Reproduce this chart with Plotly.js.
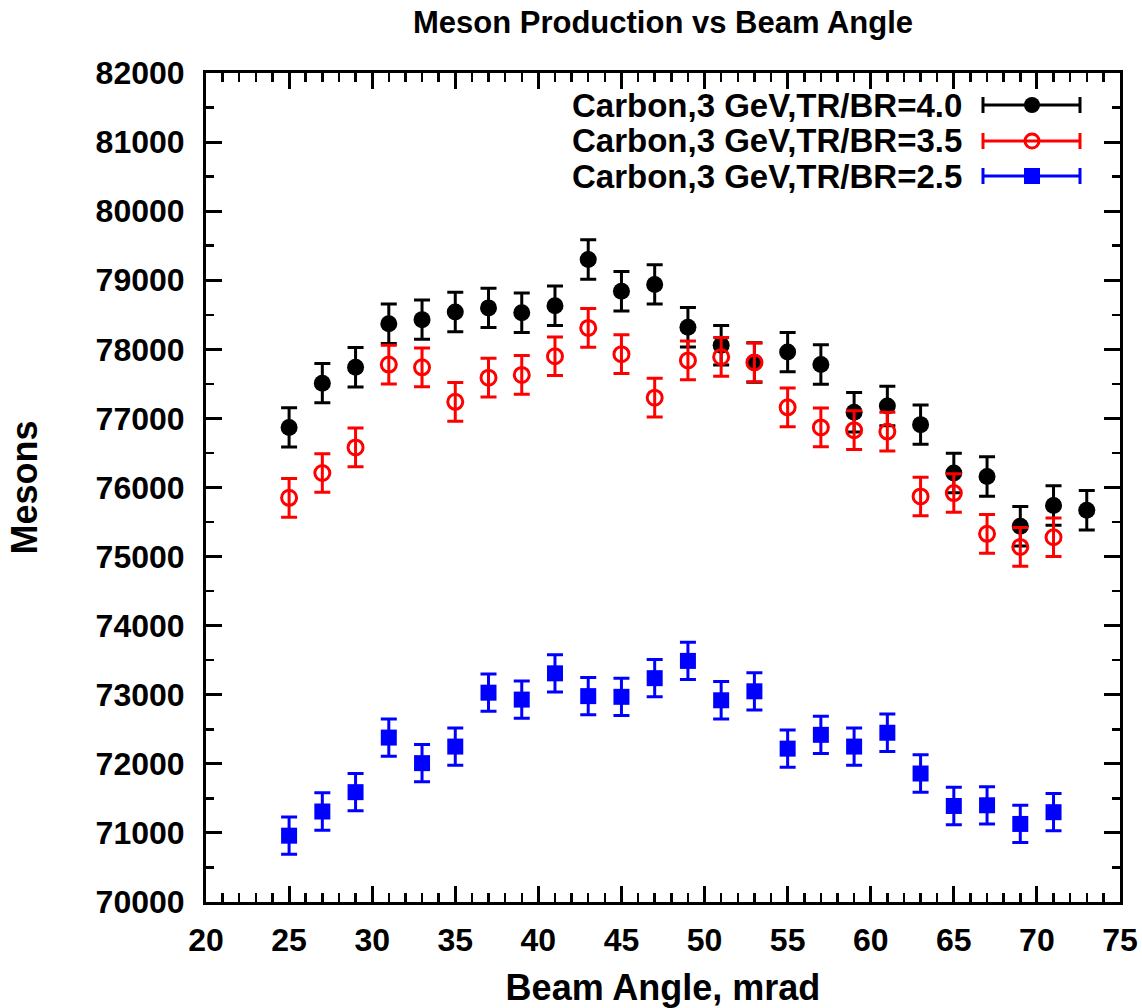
<!DOCTYPE html>
<html>
<head>
<meta charset="utf-8">
<script src="https://cdn.plot.ly/plotly-3.0.1.min.js"></script>
<style>
  html, body { margin: 0; padding: 0; background: #ffffff; }
  #chart { width: 1142px; height: 1008px; }
</style>
</head>
<body>
<div id="chart"></div>
<script>
// ---- Data ----
const anglesBlack = [25, 27, 29, 31, 33, 35, 37, 39, 41, 43, 45, 47, 49, 51, 53, 55, 57, 59, 61, 63, 65, 67, 69, 71, 73];
const anglesOther = [25, 27, 29, 31, 33, 35, 37, 39, 41, 43, 45, 47, 49, 51, 53, 55, 57, 59, 61, 63, 65, 67, 69, 71];

const mesonsTR40 = [76870, 77510, 77740, 78370, 78430, 78540, 78600, 78530, 78630, 79300, 78840, 78940, 78320, 78060, 77810, 77960, 77780, 77090, 77180, 76910, 76210, 76160, 75440, 75740, 75670];
const mesonsTR35 = [75850, 76210, 76580, 77780, 77740, 77240, 77590, 77630, 77900, 78310, 77930, 77300, 77840, 77890, 77810, 77160, 76870, 76830, 76810, 75870, 75920, 75330, 75140, 75280];
const mesonsTR25 = [70960, 71310, 71590, 72380, 72010, 72250, 73030, 72930, 73310, 72980, 72970, 73240, 73490, 72920, 73050, 72220, 72420, 72250, 72450, 71860, 71390, 71400, 71130, 71300];

const errTR40 = 285;
const errTR35 = 280;
const errTR25 = 270;

const seriesNames = ["Carbon,3 GeV,TR/BR=4.0", "Carbon,3 GeV,TR/BR=3.5", "Carbon,3 GeV,TR/BR=2.5"];
const seriesColors = ["#000000", "#ff0000", "#0000ff"];

const xTickVals = [20, 25, 30, 35, 40, 45, 50, 55, 60, 65, 70, 75];
const yTickVals = [70000, 71000, 72000, 73000, 74000, 75000, 76000, 77000, 78000, 79000, 80000, 81000, 82000];

// ---- Traces ----
function errBar(v, color) {
  return { type: 'constant', value: v, color: color, thickness: 3, width: 8, visible: true };
}
const traces = [
  {
    x: anglesBlack, y: mesonsTR40, name: seriesNames[0], type: 'scatter', mode: 'markers',
    marker: { symbol: 'circle', size: 17, color: seriesColors[0], line: { width: 0 } },
    error_y: errBar(errTR40, seriesColors[0])
  },
  {
    x: anglesOther, y: mesonsTR35, name: seriesNames[1], type: 'scatter', mode: 'markers',
    marker: { symbol: 'circle-open', size: 15, color: seriesColors[1], line: { width: 3, color: seriesColors[1] } },
    error_y: errBar(errTR35, seriesColors[1])
  },
  {
    x: anglesOther, y: mesonsTR25, name: seriesNames[2], type: 'scatter', mode: 'markers',
    marker: { symbol: 'square', size: 16, color: seriesColors[2], line: { width: 0 } },
    error_y: errBar(errTR25, seriesColors[2])
  }
];

// ---- Custom legend (text left, error-bar sample right, like gnuplot) ----
const plotL = 206, plotR = 1120, plotT = 73, plotB = 902;
const px2x = p => (p - plotL) / (plotR - plotL);
const px2y = p => (plotB - p) / (plotB - plotT);
const legendRowsPx = [105, 141, 176];
const legTextRight = px2x(964);
const legBarL = px2x(983), legBarR = px2x(1080), legMark = px2x(1032);

const shapes = [];
const annotations = [];
legendRowsPx.forEach((rp, i) => {
  const yy = px2y(rp);
  const c = seriesColors[i];
  annotations.push({
    xref: 'paper', yref: 'paper', x: legTextRight, y: yy, xanchor: 'right', yanchor: 'middle',
    text: seriesNames[i], showarrow: false,
    font: { family: 'Liberation Sans, Arial, sans-serif', size: 33, color: '#000000', weight: 'bold' }
  });
  shapes.push({ type: 'line', xref: 'paper', yref: 'paper', x0: legBarL, x1: legBarR, y0: yy, y1: yy, line: { color: c, width: 3 } });
  [legBarL, legBarR].forEach(xe => {
    shapes.push({ type: 'line', xref: 'paper', yref: 'paper', xsizemode: 'scaled', ysizemode: 'pixel', yanchor: yy,
      x0: xe, x1: xe, y0: -8, y1: 8, line: { color: c, width: 3 } });
  });
  const mk = { xref: 'paper', yref: 'paper', xsizemode: 'pixel', ysizemode: 'pixel', xanchor: legMark, yanchor: yy };
  if (i === 0) {
    shapes.push(Object.assign({ type: 'circle', x0: -8, x1: 8, y0: -8, y1: 8, fillcolor: c, line: { width: 0 } }, mk));
  } else if (i === 1) {
    shapes.push(Object.assign({ type: 'circle', x0: -7, x1: 7, y0: -7, y1: 7, fillcolor: 'rgba(0,0,0,0)', line: { color: c, width: 3 } }, mk));
  } else {
    shapes.push(Object.assign({ type: 'rect', x0: -8, x1: 8, y0: -8, y1: 8, fillcolor: c, line: { width: 0 } }, mk));
  }
});

const fontFam = 'Liberation Sans, Arial, Helvetica, sans-serif';

const layout = {
  width: 1142, height: 1008,
  paper_bgcolor: '#ffffff', plot_bgcolor: '#ffffff',
  margin: { l: plotL, r: 1142 - plotR, t: plotT, b: 1008 - plotB, pad: 0 },
  showlegend: false,
  title: {
    text: 'Meson Production vs Beam Angle',
    font: { family: fontFam, size: 31, color: '#000000', weight: 'bold' },
    x: (plotL + (plotR - plotL) / 2) / 1142, xanchor: 'center',
    y: 1 - 22 / 1008, yanchor: 'middle', yref: 'container'
  },
  xaxis: {
    range: [20, 75], tickvals: xTickVals, ticktext: xTickVals.map(String),
    showgrid: false, zeroline: false,
    showline: true, linecolor: '#000000', linewidth: 3, mirror: 'ticks',
    ticks: 'inside', ticklen: 16, tickwidth: 3, tickcolor: '#000000',
    minor: { dtick: 1, ticks: 'inside', ticklen: 9, tickwidth: 2.5, tickcolor: '#000000', showgrid: false },
    tickfont: { family: fontFam, size: 32, color: '#000000', weight: 'bold' },
    ticklabelstandoff: 8,
    title: { text: 'Beam Angle, mrad', font: { family: fontFam, size: 36, color: '#000000', weight: 'bold' }, standoff: 20 }
  },
  yaxis: {
    range: [70000, 82000], tickvals: yTickVals, ticktext: yTickVals.map(String),
    showgrid: false, zeroline: false,
    showline: true, linecolor: '#000000', linewidth: 3, mirror: 'ticks',
    ticks: 'inside', ticklen: 16, tickwidth: 3, tickcolor: '#000000',
    minor: { dtick: 500, ticks: 'inside', ticklen: 8, tickwidth: 2.5, tickcolor: '#000000', showgrid: false },
    tickfont: { family: fontFam, size: 32, color: '#000000', weight: 'bold' },
    ticklabelstandoff: 12,
    title: { text: 'Mesons', font: { family: fontFam, size: 36, color: '#000000', weight: 'bold' }, standoff: 48 }
  },
  shapes: shapes,
  annotations: annotations
};

Plotly.newPlot('chart', traces, layout, { displayModeBar: false, staticPlot: true });
</script>
</body>
</html>
